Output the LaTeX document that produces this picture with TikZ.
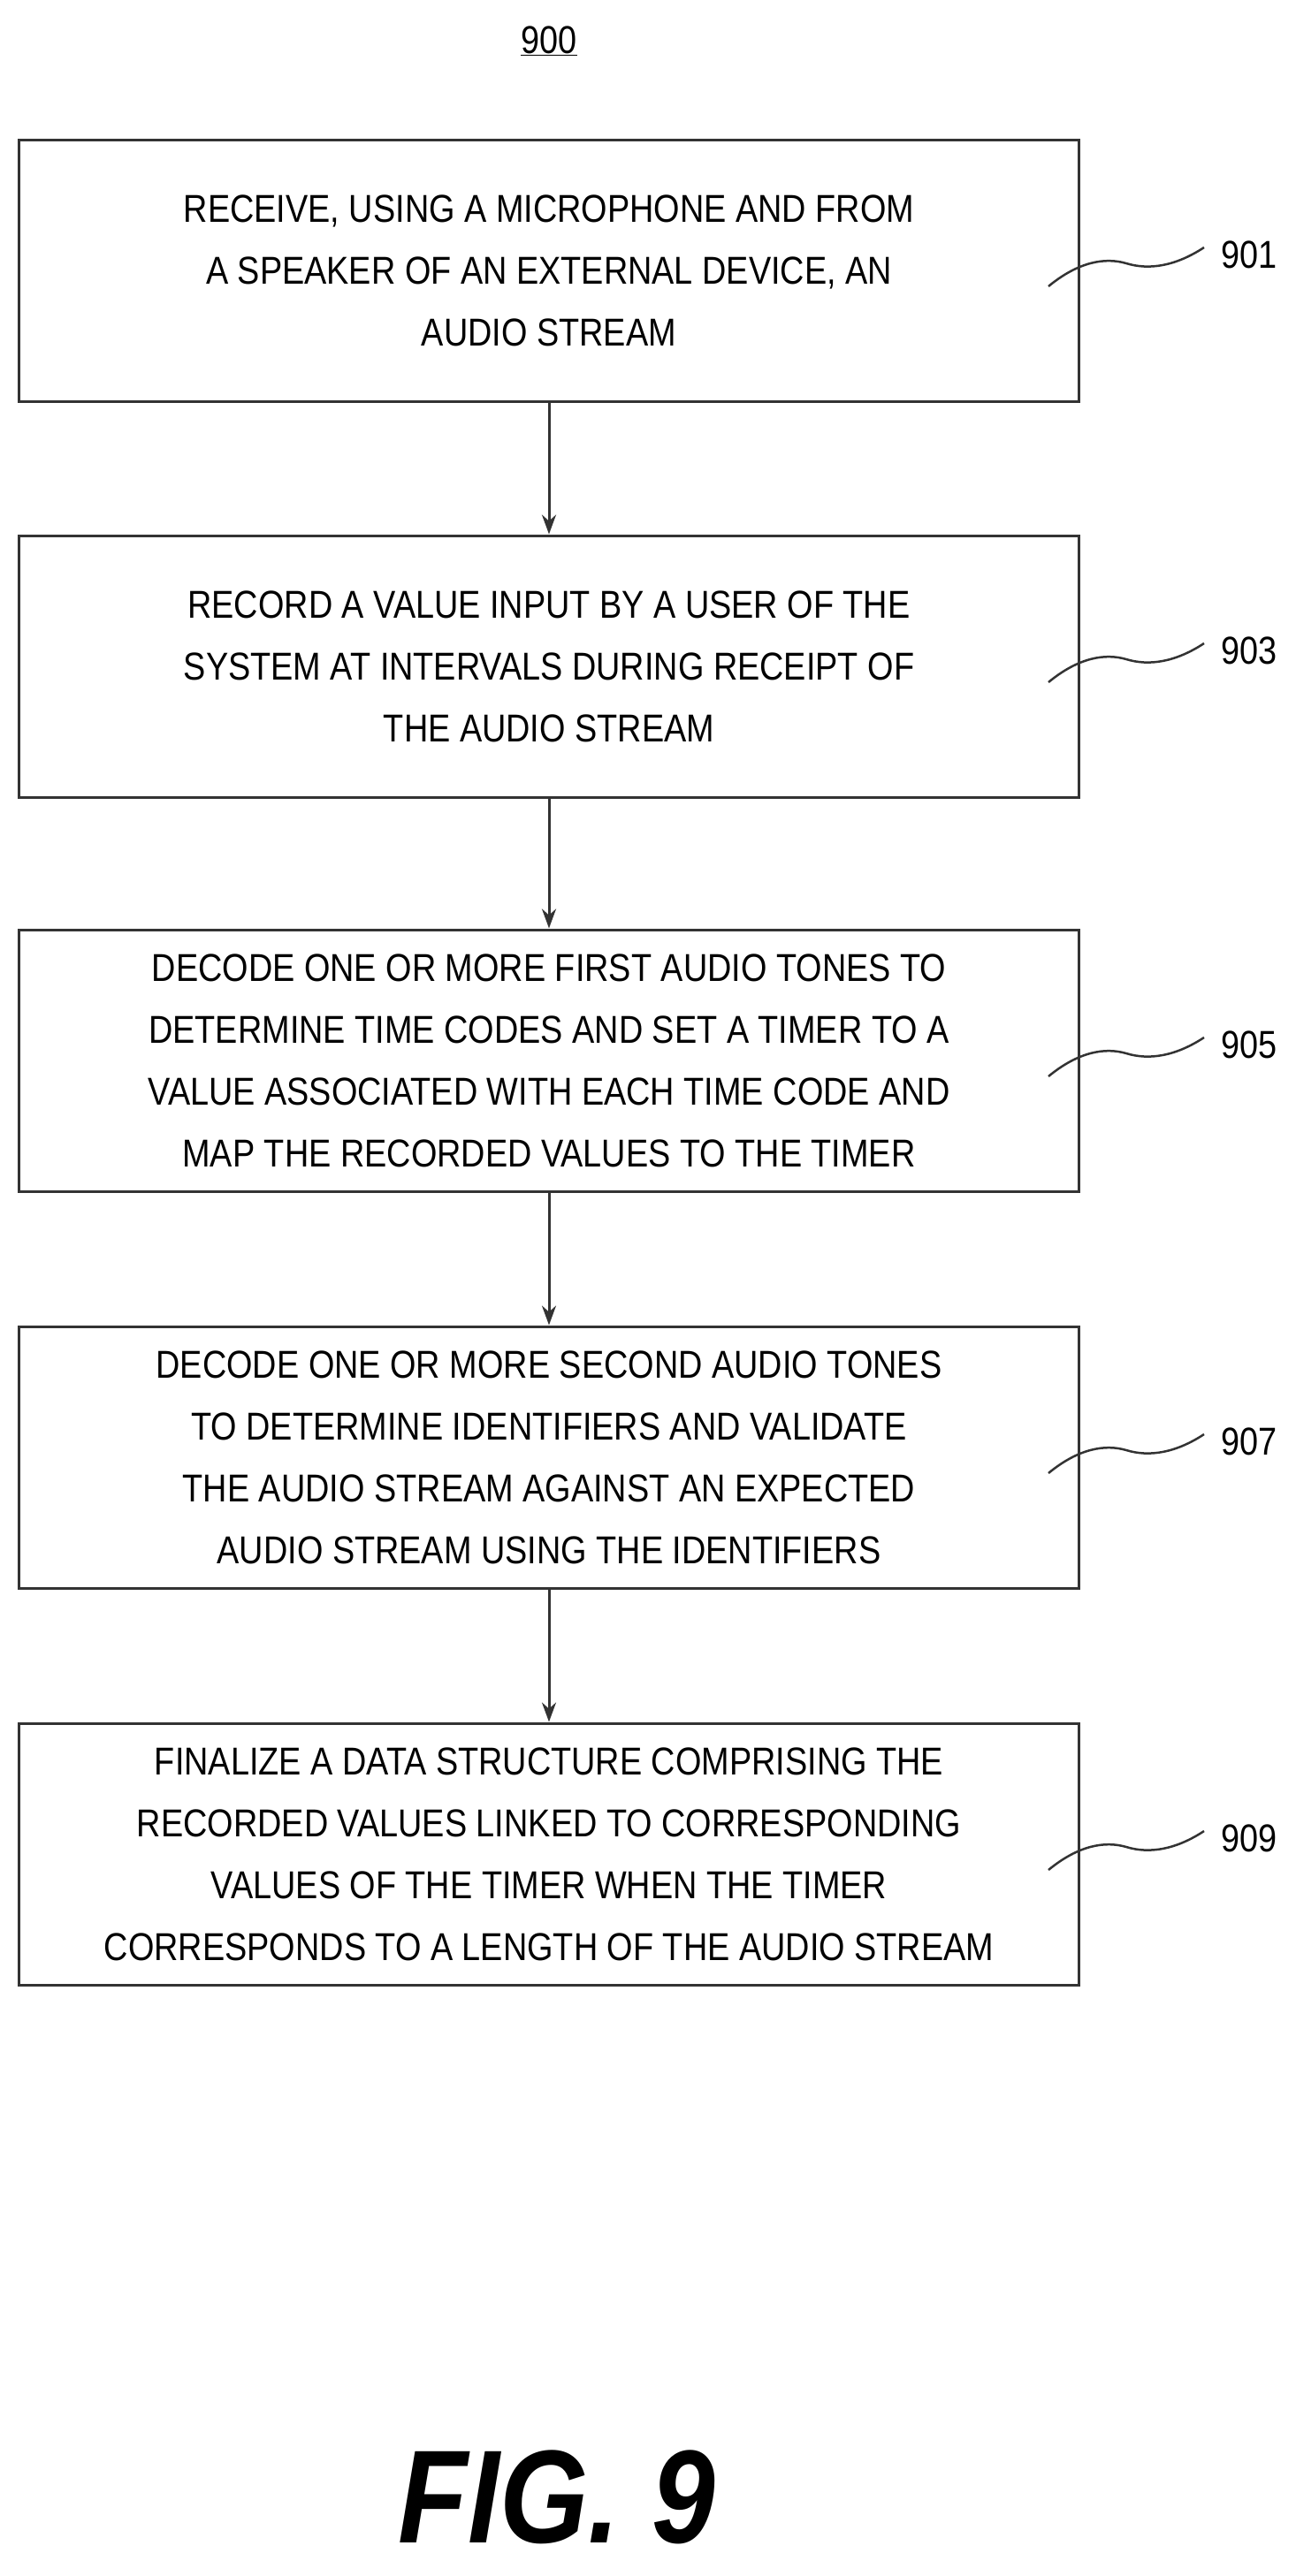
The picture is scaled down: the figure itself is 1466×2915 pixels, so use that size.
\documentclass[tikz,border=0pt]{standalone}
\usepackage{fontspec}
\setmainfont{Liberation Sans}[FakeStretch=0.86]
\usetikzlibrary{arrows.meta}
\begin{document}
\begin{tikzpicture}[x=1pt,y=-1pt,
 box/.style={draw=black!80,line width=3pt,minimum width=1199pt,minimum height=296pt,align=center,inner sep=0pt,font=\fontsize{44}{70}\selectfont},
 arr/.style={draw=black!80,line width=3pt,-{Stealth[length=22pt,width=16pt]}},
 sq/.style={draw=black!80,line width=2.5pt},
 lab/.style={font=\fontsize{44}{50}\selectfont,anchor=west}]
\useasboundingbox (0,0) rectangle (1466,2915);
\node[font=\fontsize{44}{50}\selectfont] (t) at (621,46) {\underline{900}};
\node[box] (b1) at (621,306) {RECEIVE, USING A MICROPHONE AND FROM\\A SPEAKER OF AN EXTERNAL DEVICE, AN\\AUDIO STREAM};
\node[box] (b2) at (621,754) {RECORD A VALUE INPUT BY A USER OF THE\\SYSTEM AT INTERVALS DURING RECEIPT OF\\THE AUDIO STREAM};
\node[box] (b3) at (621,1200) {DECODE ONE OR MORE FIRST AUDIO TONES TO\\DETERMINE TIME CODES AND SET A TIMER TO A\\VALUE ASSOCIATED WITH EACH TIME CODE AND\\MAP THE RECORDED VALUES TO THE TIMER};
\node[box] (b4) at (621,1649) {DECODE ONE OR MORE SECOND AUDIO TONES\\TO DETERMINE IDENTIFIERS AND VALIDATE\\THE AUDIO STREAM AGAINST AN EXPECTED\\AUDIO STREAM USING THE IDENTIFIERS};
\node[box] (b5) at (621,2098) {FINALIZE A DATA STRUCTURE COMPRISING THE\\RECORDED VALUES LINKED TO CORRESPONDING\\VALUES OF THE TIMER WHEN THE TIMER\\CORRESPONDS TO A LENGTH OF THE AUDIO STREAM};
\draw[arr] (b1) -- (b2);
\draw[arr] (b2) -- (b3);
\draw[arr] (b3) -- (b4);
\draw[arr] (b4) -- (b5);
\foreach \n/\y/\l in {1/306/901,2/754/903,3/1200/905,4/1649/907,5/2098/909}{
 \node[lab] (l\n) at (1378,\y-18) {\l};
 \coordinate (s\n) at (1186,\y+18);
 \coordinate (e\n) at (1362,\y-26);
 \draw[sq] (s\n) .. controls (1220,\y-10) and (1250,\y-15) .. (1274,\y-8) .. controls (1300,\y) and (1330,\y-5) .. (e\n);
}
\node[font=\fontsize{150}{160}\selectfont\bfseries\itshape] (f) at (630,2826) {FIG. 9};
\end{tikzpicture}
\end{document}
